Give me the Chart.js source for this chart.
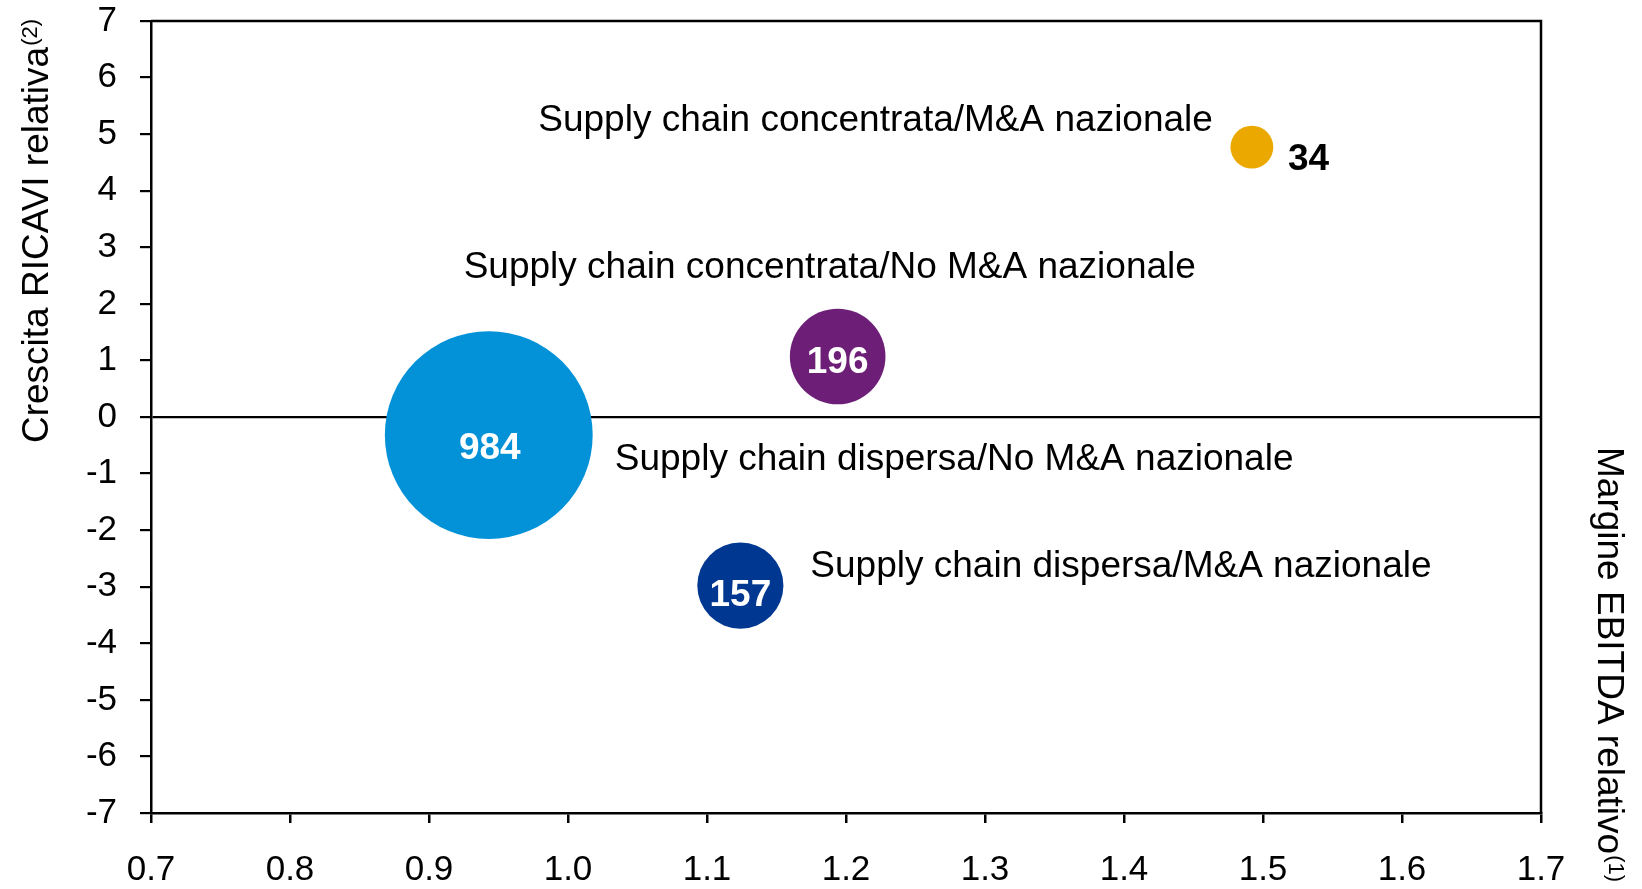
<!DOCTYPE html>
<html>
<head>
<meta charset="utf-8">
<title>Crescita ricavi vs margine EBITDA</title>
<script src="https://cdn.jsdelivr.net/npm/chart.js@4.4.1/dist/chart.umd.min.js"></script>
<style>
  html, body { margin: 0; padding: 0; background: #fff; }
  #wrap { width: 1642px; height: 889px; }
</style>
</head>
<body>
<div id="wrap"><canvas id="bubbleChart" width="1642" height="889"></canvas></div>
<script>
/* ===============================
   DATA
================================ */
const groups = [
  'Supply chain concentrata/M&A nazionale',
  'Supply chain concentrata/No M&A nazionale',
  'Supply chain dispersa/No M&A nazionale',
  'Supply chain dispersa/M&A nazionale',
];
const ebitdaMargin = [1.492, 1.194, 0.943, 1.124]; // x: margine EBITDA relativo
const revenueGrowth = [4.77, 1.07, -0.32, -2.98]; // y: crescita ricavi relativa
const companyCount = [34, 196, 984, 157]; // bubble size
const groupColors = ['#EBA900', '#6D1F77', '#0391D8', '#003891'];

const xTitle = 'Margine EBITDA relativo';
const xNote = '(1)';
const yTitle = 'Crescita RICAVI relativa';
const yNote = '(2)';

const FONT = "'Liberation Sans', Arial, sans-serif";

/* ===============================
   LABEL PLACEMENT (px from bubble centre)
================================ */
const countPlace = [
  { dx: 36, dy: 23, align: 'left', color: '#000' },
  { dx: 0, dy: 17, align: 'center', color: '#fff' },
  { dx: 1, dy: 24, align: 'center', color: '#fff' },
  { dx: 0, dy: 20, align: 'center', color: '#fff' },
];
const groupPlace = [
  { dx: -39, dy: -16, align: 'right' },
  { dx: -374, dy: -78, align: 'left' },
  { dx: 126, dy: 35, align: 'left' },
  { dx: 70, dy: -9, align: 'left' },
];

/* ===============================
   PLUGINS
================================ */
const framePlugin = {
  id: 'frame',
  beforeDatasetsDraw(chart) {
    const { ctx, chartArea: a } = chart;
    ctx.save();
    ctx.strokeStyle = '#000';
    ctx.lineWidth = 2.5;
    ctx.beginPath();
    ctx.moveTo(a.left, a.top);
    ctx.lineTo(a.right, a.top);
    ctx.lineTo(a.right, a.bottom);
    ctx.stroke();
    ctx.restore();
  },
};

const labelPlugin = {
  id: 'bubbleLabels',
  afterDatasetsDraw(chart) {
    const { ctx } = chart;
    const meta = chart.getDatasetMeta(0);
    ctx.save();
    ctx.textBaseline = 'alphabetic';
    meta.data.forEach((pt, i) => {
      const c = countPlace[i];
      ctx.font = 'bold 37px ' + FONT;
      ctx.fillStyle = c.color;
      ctx.textAlign = c.align;
      ctx.fillText(String(companyCount[i]), pt.x + c.dx, pt.y + c.dy);

      const g = groupPlace[i];
      ctx.font = '37px ' + FONT;
      ctx.fillStyle = '#000';
      ctx.textAlign = g.align;
      ctx.fillText(groups[i], pt.x + g.dx, pt.y + g.dy);
    });
    ctx.restore();
  },
};

function drawTitle(ctx, x, y, angle, text, note) {
  ctx.save();
  ctx.translate(x, y);
  ctx.rotate(angle);
  ctx.fillStyle = '#000';
  ctx.textAlign = 'left';
  ctx.textBaseline = 'alphabetic';
  ctx.font = '37px ' + FONT;
  ctx.fillText(text, 0, 0);
  const w = ctx.measureText(text).width;
  ctx.font = '22px ' + FONT;
  ctx.fillText(note, w + 1, -11);
  ctx.restore();
}

const titlePlugin = {
  id: 'axisTitles',
  afterDraw(chart) {
    const { ctx } = chart;
    drawTitle(ctx, 48, 443, -Math.PI / 2, yTitle, yNote);
    drawTitle(ctx, 1598, 447, Math.PI / 2, xTitle, xNote);
  },
};

/* ===============================
   CHART
================================ */
new Chart(document.getElementById('bubbleChart'), {
  type: 'bubble',
  data: {
    labels: groups,
    datasets: [
      {
        data: ebitdaMargin.map((x, i) => ({ x: x, y: revenueGrowth[i] })),
        backgroundColor: groupColors,
        borderWidth: 0,
        radius: (ctx) => 2.6 + 3.23 * Math.sqrt(companyCount[ctx.dataIndex]),
        hoverRadius: 0,
      },
    ],
  },
  options: {
    responsive: false,
    animation: false,
    devicePixelRatio: 1,
    layout: { autoPadding: false, padding: { top: 21, right: 101, left: 0, bottom: 0 } },
    plugins: {
      legend: { display: false },
      tooltip: { enabled: false },
    },
    scales: {
      x: {
        type: 'linear',
        min: 0.7,
        max: 1.7,
        afterFit: (s) => {
          s.height = 76;
          s.paddingLeft = 0;
          s.paddingRight = 0;
        },
        ticks: {
          stepSize: 0.1,
          callback: (v) => v.toFixed(1),
          font: { family: FONT, size: 35 },
          color: '#000',
          padding: 26,
          maxRotation: 0,
          autoSkip: false,
        },
        grid: { drawOnChartArea: false, tickLength: 10, tickColor: '#000', lineWidth: 2.5 },
        border: { color: '#000', width: 2.5 },
      },
      y: {
        type: 'linear',
        min: -7,
        max: 7,
        afterFit: (s) => {
          s.width = 151;
          s.paddingTop = 0;
          s.paddingBottom = 0;
        },
        ticks: {
          stepSize: 1,
          font: { family: FONT, size: 35 },
          color: '#000',
          padding: 23,
          autoSkip: false,
        },
        grid: {
          color: (ctx) => (ctx.tick && ctx.tick.value === 0 ? '#000' : 'rgba(0,0,0,0)'),
          tickColor: '#000',
          tickLength: 11,
          lineWidth: 2.2,
        },
        border: { color: '#000', width: 2.5 },
      },
    },
  },
  plugins: [framePlugin, labelPlugin, titlePlugin],
});
</script>
</body>
</html>
